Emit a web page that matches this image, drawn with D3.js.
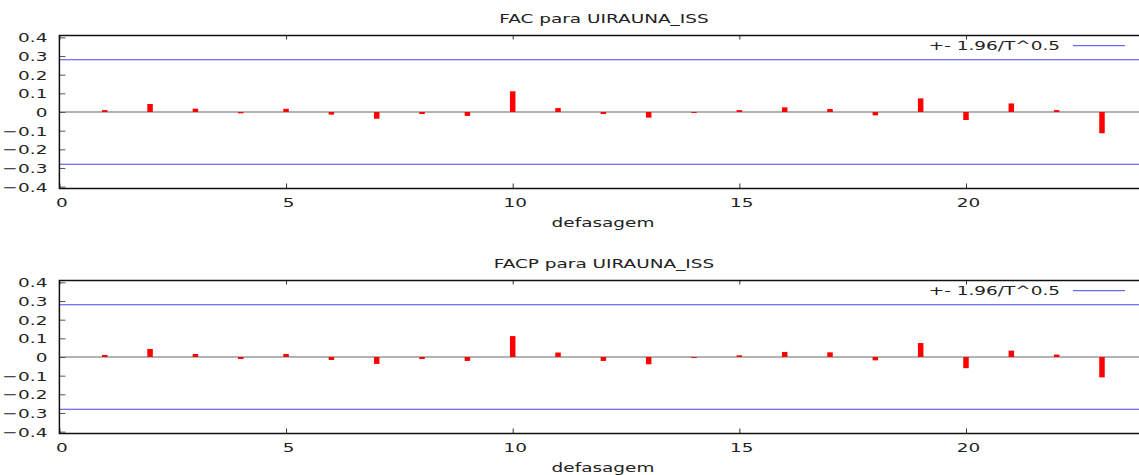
<!DOCTYPE html>
<html>
<head>
<meta charset="utf-8">
<script src="https://cdn.jsdelivr.net/npm/d3@7"></script>
<style>
  html, body { margin: 0; padding: 0; background: #fff; }
  svg { display: block; }
  text { font-family: "DejaVu Sans", sans-serif; fill: #222; }
</style>
</head>
<body>
<svg id="chart" width="1139" height="475"></svg>
<script>
// ---- data ----
const lags = [1,2,3,4,5,6,7,8,9,10,11,12,13,14,15,16,17,18,19,20,21,22,23];
const facValues  = [0.010, 0.043, 0.018, -0.007, 0.017, -0.014, -0.036, -0.011, -0.021, 0.111, 0.021,
                    -0.011, -0.030, -0.005, 0.010, 0.025, 0.016, -0.018, 0.073, -0.043, 0.046, 0.010, -0.114];
const facpValues = [0.011, 0.043, 0.016, -0.011, 0.016, -0.016, -0.037, -0.011, -0.021, 0.112, 0.024,
                    -0.021, -0.039, -0.005, 0.009, 0.027, 0.025, -0.018, 0.075, -0.060, 0.034, 0.013, -0.109];
const bandValue = [0.28];            // 1.96 / T^0.5
const yTicks = [-0.4,-0.3,-0.2,-0.1,0,0.1,0.2,0.3,0.4];
const xTicks = [0,5,10,15,20];
const titles = ["FAC para UIRAUNA_ISS", "FACP para UIRAUNA_ISS"];
const xLabel = "defasagem";
const legendLabel = "+- 1.96/T^0.5";

// ---- layout ----
const SX = 1.42;           // horizontal text stretch
const FS = 13;
const svg = d3.select("#chart");
const left = 59.4;
const x = d3.scaleLinear().domain([0, 24]).range([left, left + 24 * 45.33]);

function stretchedText(g, tx, ty, str, anchor) {
  return g.append("text")
    .attr("transform", `translate(${tx},${ty}) scale(${SX},1)`)
    .attr("text-anchor", anchor || "middle")
    .style("font-size", FS + "px")
    .text(str);
}

function panel(offset, title, values) {
  const top = 35.5 + offset, bottom = 188.5 + offset;
  const y = d3.scaleLinear().domain([-0.41, 0.41]).range([bottom, top]);
  const g = svg.append("g");

  // title
  stretchedText(g, 604, 23 + offset, title);

  // bands
  [bandValue[0], -bandValue[0]].forEach(v => {
    g.append("line")
      .attr("x1", left).attr("x2", 1139)
      .attr("y1", y(v)).attr("y2", y(v))
      .attr("stroke", "#4646f0").attr("stroke-width", 1);
  });

  // zero line
  g.append("line")
    .attr("x1", left).attr("x2", 1139)
    .attr("y1", y(0)).attr("y2", y(0))
    .attr("stroke", "#9a9a9a").attr("stroke-width", 1.6);

  // bars
  const bw = 5.5;
  g.selectAll("rect.bar").data(lags.map((l, i) => ({l, v: values[i]})))
    .enter().append("rect")
    .attr("class", "bar")
    .attr("x", d => x(d.l) - bw / 2)
    .attr("width", bw)
    .attr("y", d => Math.min(y(d.v), y(0)))
    .attr("height", d => Math.abs(y(d.v) - y(0)))
    .attr("fill", "#ff0000");

  // y axis (ticks inward)
  const ya = g.append("g").attr("transform", `translate(${left},0)`)
    .call(d3.axisLeft(y).tickValues(yTicks).tickSize(-6).tickSizeOuter(0)
      .tickFormat(d => d === 0 ? "0" : d3.format(".1f")(d)));
  ya.select(".domain").remove();
  ya.selectAll(".tick line").attr("stroke", "#555");
  ya.selectAll(".tick text")
    .attr("x", null).attr("dy", null)
    .attr("transform", `translate(-12,4.5) scale(${SX},1)`)
    .attr("font-family", null).attr("font-size", null)
    .style("font-size", FS + "px").attr("fill", "#222");

  // x axis bottom
  const xa = g.append("g").attr("transform", `translate(0,${bottom})`)
    .call(d3.axisBottom(x).tickValues(xTicks).tickSize(-5).tickSizeOuter(0));
  xa.select(".domain").remove();
  xa.selectAll(".tick line").attr("stroke", "#333");
  xa.selectAll(".tick text")
    .attr("y", null).attr("dy", null)
    .attr("transform", `translate(2,18.7) scale(${SX},1)`)
    .attr("font-family", null).attr("font-size", null)
    .style("font-size", FS + "px").attr("fill", "#222");

  // x axis top mirror ticks
  const xt = g.append("g").attr("transform", `translate(0,${top})`)
    .call(d3.axisTop(x).tickValues(xTicks).tickSize(-4).tickFormat(""));
  xt.select(".domain").remove();
  xt.selectAll(".tick line").attr("stroke", "#333");

  // border (left, top, bottom)
  g.append("path")
    .attr("d", `M1139,${top}H${left}V${bottom}H1139`)
    .attr("fill", "none").attr("stroke", "#111").attr("stroke-width", 1.5);

  // x label
  stretchedText(g, 603, bottom + 38.5, xLabel);

  // legend
  stretchedText(g, 1060, top + 14.5, legendLabel, "end");
  g.append("line")
    .attr("x1", 1073).attr("x2", 1125)
    .attr("y1", top + 10.2).attr("y2", top + 10.2)
    .attr("stroke", "#4646f0").attr("stroke-width", 1);
}

panel(0, titles[0], facValues);
panel(245, titles[1], facpValues);
</script>
</body>
</html>
